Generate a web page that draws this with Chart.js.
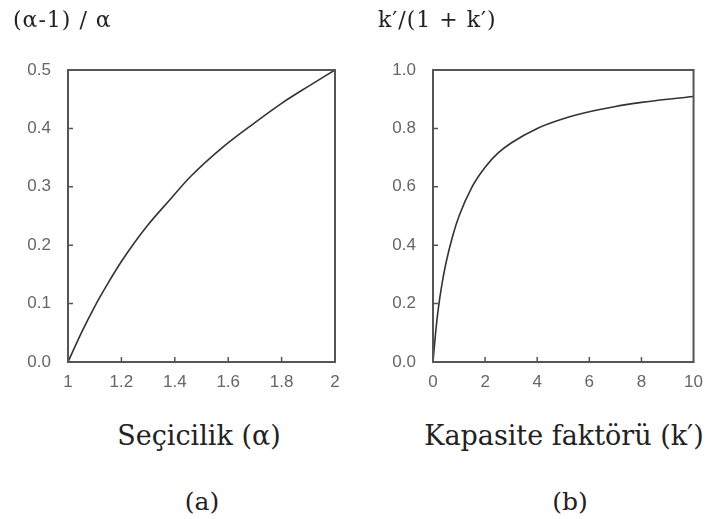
<!DOCTYPE html>
<html>
<head>
<meta charset="utf-8">
<script src="https://cdn.jsdelivr.net/npm/chart.js@4/dist/chart.umd.min.js"></script>
<style>
  body { margin: 0; background: #fff; }
  #wrap { position: relative; width: 713px; height: 519px; overflow: hidden; }
  .cv { position: absolute; top: 0; }
  .txt { position: absolute; font-family: 'DejaVu Serif', 'Liberation Serif', serif; color: #222; white-space: nowrap; line-height: 1; }
  .head { font-size: 22px; top: 9px; letter-spacing: 1px; }
  .xt { font-size: 27px; top: 422px; transform: translateX(-50%); }
  .lab { font-size: 25px; top: 489px; transform: translateX(-50%); }
</style>
</head>
<body>
<div id="wrap">
  <div class="cv" style="left:0;width:356px;height:400px"><canvas id="chart-a"></canvas></div>
  <div class="cv" style="left:356px;width:357px;height:400px"><canvas id="chart-b"></canvas></div>
  <div class="txt head" style="left:13px">(α-1) / α</div>
  <div class="txt head" style="left:378px">k′/(1 + k′)</div>
  <div class="txt xt" style="left:199px">Seçicilik (α)</div>
  <div class="txt xt" style="left:564px">Kapasite faktörü (k′)</div>
  <div class="txt lab" style="left:202px">(a)</div>
  <div class="txt lab" style="left:570px">(b)</div>
</div>
<script>
// panel (a): selectivity
const alphaX = [1, 1.05, 1.1, 1.15, 1.2, 1.25, 1.3, 1.38, 1.46, 1.58, 1.7, 1.8, 1.9, 2];
const alphaY = [0, 0.05, 0.095, 0.135, 0.172, 0.205, 0.235, 0.277, 0.318, 0.368, 0.41, 0.443, 0.472, 0.5];
// panel (b): capacity factor
const kX = [0, 0.1, 0.2, 0.35, 0.5, 0.75, 1, 1.5, 2, 2.5, 3, 4, 5, 6, 7, 8, 9, 10];
const kY = [0, 0.1, 0.18, 0.27, 0.34, 0.43, 0.5, 0.6, 0.667, 0.716, 0.75, 0.8, 0.833, 0.857, 0.875, 0.889, 0.9, 0.909];

const LINE_COLOR = '#333';
const BOX_COLOR = '#555';
const TICK_FONT = { family: "'Liberation Sans', Arial, sans-serif", size: 17 };

// frame + inward tick marks
const boxPlugin = {
  id: 'box',
  afterDraw(chart) {
    const { ctx, chartArea: a, scales } = chart;
    ctx.save();
    ctx.strokeStyle = BOX_COLOR;
    ctx.lineWidth = 2;
    ctx.strokeRect(a.left, a.top, a.right - a.left, a.bottom - a.top);
    ctx.lineWidth = 1.5;
    ctx.beginPath();
    scales.x.ticks.forEach((t) => {
      const px = scales.x.getPixelForValue(t.value);
      if (px <= a.left + 1 || px >= a.right - 1) return;
      ctx.moveTo(px, a.bottom);
      ctx.lineTo(px, a.bottom - 5);
    });
    scales.y.ticks.forEach((t) => {
      const py = scales.y.getPixelForValue(t.value);
      if (py <= a.top + 1 || py >= a.bottom - 1) return;
      ctx.moveTo(a.left, py);
      ctx.lineTo(a.left + 5, py);
    });
    ctx.stroke();
    ctx.restore();
  },
};

const makeChart = function (id, xs, ys, opt) {
  return new Chart(document.getElementById(id), {
    type: 'scatter',
    data: {
      datasets: [
        {
          data: xs.map((x, i) => ({ x: x, y: ys[i] })),
          showLine: true,
          borderColor: LINE_COLOR,
          borderWidth: 1.6,
          pointRadius: 0,
          cubicInterpolationMode: 'monotone',
        },
      ],
    },
    options: {
      responsive: true,
      maintainAspectRatio: false,
      animation: false,
      layout: { padding: { top: 70, right: opt.right, left: 0, bottom: 0 } },
      scales: {
        x: {
          type: 'linear',
          min: opt.xMin,
          max: opt.xMax,
          afterFit: (s) => { s.height = 38; },
          ticks: {
            stepSize: opt.xStep,
            padding: 10,
            color: '#666',
            font: TICK_FONT,
            callback: (v) => String(Math.round(v * 10) / 10),
          },
          grid: { display: false, drawTicks: false },
          border: { display: false },
        },
        y: {
          min: 0,
          max: opt.yMax,
          afterFit: (s) => { s.width = opt.yWidth; },
          ticks: {
            stepSize: opt.yStep,
            padding: 17,
            color: '#666',
            font: TICK_FONT,
            callback: (v) => v.toFixed(1),
          },
          grid: { display: false, drawTicks: false },
          border: { display: false },
        },
      },
      plugins: { legend: { display: false }, tooltip: { enabled: false } },
    },
    plugins: [boxPlugin],
  });
};

makeChart('chart-a', alphaX, alphaY, { xMin: 1, xMax: 2, xStep: 0.2, yMax: 0.5, yStep: 0.1, yWidth: 68, right: 21 });
makeChart('chart-b', kX, kY, { xMin: 0, xMax: 10, xStep: 2, yMax: 1, yStep: 0.2, yWidth: 77, right: 12 });
</script>
</body>
</html>
